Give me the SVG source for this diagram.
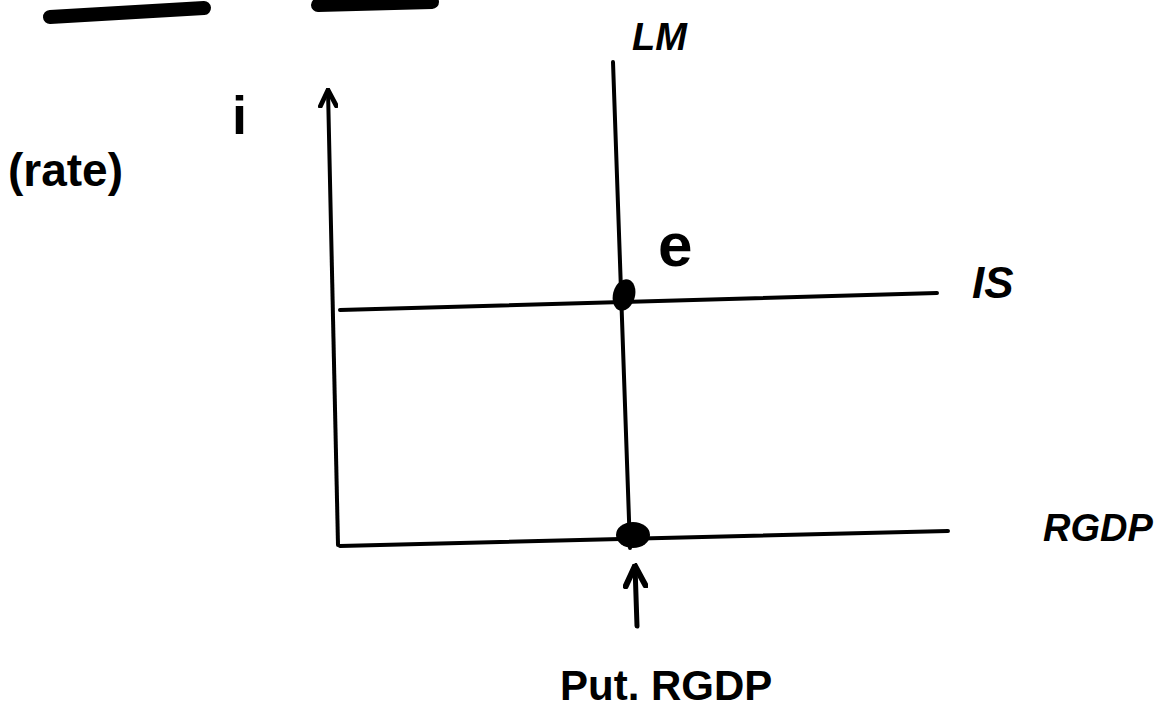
<svg xmlns="http://www.w3.org/2000/svg" width="1173" height="712" viewBox="0 0 1173 712">
<defs>
<style>
.ln{stroke:#000;stroke-width:4;fill:none;stroke-linecap:round}
.bar{stroke:#000;stroke-width:14;fill:none;stroke-linecap:round}
.hw{font-family:"Liberation Sans",Arial,sans-serif;font-weight:bold;fill:#000}
</style>
<marker id="ah2" viewBox="0 0 10 10" refX="9" refY="5" markerWidth="5" markerHeight="5" orient="auto">
<path d="M1,1 L9,5 L1,9" fill="none" stroke="#000" stroke-width="2.4" stroke-linecap="round"/>
</marker>
</defs>
<rect width="1173" height="712" fill="#fff"/>
<g id="top-bars">
<path class="bar" d="M50,17 L204,8"/>
<path class="bar" d="M318,5 L432,2"/>
</g>
<g id="connectors">
<path id="y-axis" class="ln" d="M338,545 L328,90" marker-end="url(#ah2)"/>
<path id="x-axis" class="ln" d="M340,546 L948,531"/>
<path id="LM" class="ln" d="M613,62 L630,548"/>
<path id="IS" class="ln" d="M340,310 L937,293"/>
<path id="arrow" class="ln" style="stroke-width:5" d="M637,626 L635,566" marker-end="url(#ah2)"/>
</g>
<g id="point-e">
<ellipse cx="624" cy="295" rx="11" ry="16" transform="rotate(15 624 295)" fill="#000"/>
<text class="hw" x="658" y="266" font-size="62" font-weight="normal">e</text>
</g>
<g id="point-pot">
<ellipse cx="633" cy="535" rx="17" ry="13" fill="#000"/>
</g>
<g id="labels">
<text class="hw" x="632" y="50" font-size="38" font-style="italic">LM</text>
<text class="hw" x="232" y="134" font-size="54">i</text>
<text class="hw" x="8" y="186" font-size="46">(rate)</text>
<text class="hw" x="972" y="298" font-size="44" font-style="italic">IS</text>
<text class="hw" x="1043" y="541" font-size="38" font-style="italic">RGDP</text>
<text class="hw" x="560" y="700" font-size="42">Put. RGDP</text>
</g>
</svg>
